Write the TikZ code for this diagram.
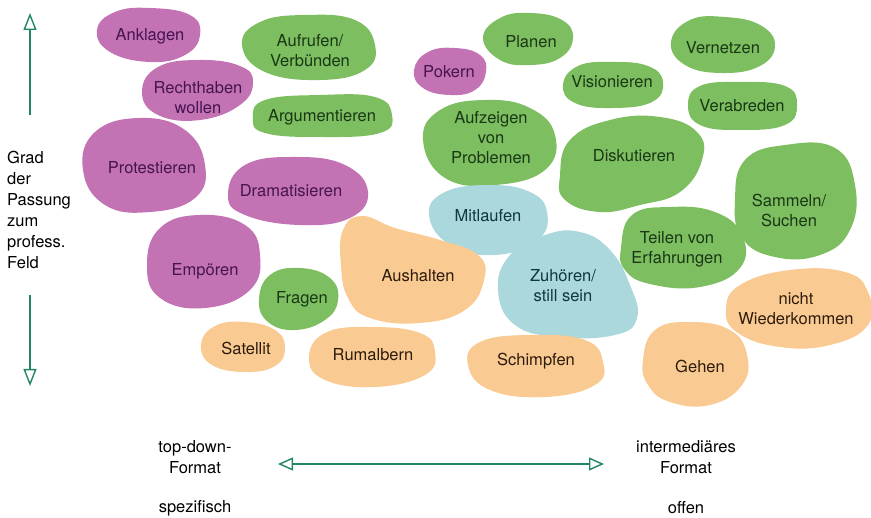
\documentclass[tikz,border=0pt]{standalone}
\usepackage{fontspec}
\setmainfont{TeX Gyre Heros}
\usetikzlibrary{arrows.meta}
\definecolor{cpur}{RGB}{195,114,180}
\definecolor{cgrn}{RGB}{125,190,96}
\definecolor{cblu}{RGB}{170,216,221}
\definecolor{corg}{RGB}{249,202,146}
\definecolor{tpur}{RGB}{70,20,80}
\definecolor{tgrn}{RGB}{25,55,20}
\definecolor{tblu}{RGB}{15,55,62}
\definecolor{torg}{RGB}{45,28,12}
\definecolor{axis}{RGB}{35,135,100}
\tikzset{
  pur/.style={fill=cpur, draw=none},
  grn/.style={fill=cgrn, draw=none},
  blu/.style={fill=cblu, draw=none},
  org/.style={fill=corg, draw=none},
  lbl/.style={align=center, font=\fontsize{16.5}{20}\selectfont, inner sep=0pt},
  lpur/.style={lbl, text=tpur},
  lgrn/.style={lbl, text=tgrn},
  lblu/.style={lbl, text=tblu},
  lorg/.style={lbl, text=torg},
  side/.style={font=\fontsize{16.5}{21}\selectfont, inner sep=0pt, text=black},
  axisarrow/.style={draw=axis, line width=1.4pt, -{Triangle[open, length=17pt, width=13pt, line width=1.4pt]}},
  axisboth/.style={draw=axis, line width=1.4pt, {Triangle[open, length=15pt, width=13pt, line width=1.4pt]}-{Triangle[open, length=15pt, width=13pt, line width=1.4pt]}}
}
\begin{document}
\begin{tikzpicture}[x=1pt, y=-1pt]
\useasboundingbox (0,0) rectangle (871,518);
% purple
\fill[pur] plot[smooth cycle, tension=0.75] coordinates {(97,30) (115,12) (150,8) (190,15) (200,35) (185,55) (150,62) (110,52)};
\fill[pur] plot[smooth cycle, tension=0.75] coordinates {(142,92) (158,67) (200,60) (240,66) (253,82) (240,105) (200,120) (158,115)};
\fill[pur] plot[smooth cycle, tension=0.75] coordinates {(83,170) (95,132) (140,118) (185,130) (205,165) (195,198) (150,212) (105,205)};
\fill[pur] plot[smooth cycle, tension=0.75] coordinates {(228,195) (245,165) (295,157) (345,165) (368,192) (350,218) (300,225) (245,215)};
\fill[pur] plot[smooth cycle, tension=0.75] coordinates {(147,265) (160,228) (200,215) (245,225) (260,255) (250,290) (205,308) (160,298)};
\fill[pur] plot[smooth cycle, tension=0.75] coordinates {(414,70) (428,52) (455,48) (480,55) (486,72) (475,90) (450,95) (423,88)};
% green
\fill[grn] plot[smooth cycle, tension=0.75] coordinates {(242,45) (260,22) (305,15) (355,20) (375,45) (365,70) (320,80) (265,72)};
\fill[grn] plot[smooth cycle, tension=0.75] coordinates {(253,118) (265,100) (320,95) (375,97) (392,115) (380,133) (320,137) (265,133)};
\fill[grn] plot[smooth cycle, tension=0.75] coordinates {(259,300) (270,275) (300,268) (330,278) (338,300) (325,320) (295,330) (268,322)};
\fill[grn] plot[smooth cycle, tension=0.75] coordinates {(483,38) (500,18) (530,13) (562,20) (573,38) (560,58) (530,65) (500,60)};
\fill[grn] plot[smooth cycle, tension=0.75] coordinates {(563,85) (578,66) (612,62) (648,66) (663,82) (652,102) (612,108) (575,103)};
\fill[grn] plot[smooth cycle, tension=0.75] coordinates {(671,42) (690,20) (725,17) (760,25) (775,45) (760,66) (722,73) (685,65)};
\fill[grn] plot[smooth cycle, tension=0.75] coordinates {(688,105) (700,86) (740,82) (785,86) (797,105) (785,125) (740,130) (700,125)};
\fill[grn] plot[smooth cycle, tension=0.75] coordinates {(423,140) (440,110) (485,100) (530,108) (555,135) (545,170) (495,185) (445,178)};
\fill[grn] plot[smooth cycle, tension=0.75] coordinates {(560,175) (570,140) (610,120) (660,117) (697,132) (702,160) (680,192) (640,205) (600,212) (565,200)};
\fill[grn] plot[smooth cycle, tension=0.75] coordinates {(735,200) (745,160) (785,145) (835,148) (855,185) (850,230) (820,255) (775,257) (742,238)};
\fill[grn] plot[smooth cycle, tension=0.75] coordinates {(621,248) (632,215) (670,207) (715,212) (742,235) (740,268) (700,287) (650,284) (625,270)};
% blue
\fill[blu] plot[smooth cycle, tension=0.75] coordinates {(429,215) (445,192) (490,185) (530,192) (547,212) (538,240) (495,255) (450,245)};
\fill[blu] plot[smooth cycle, tension=0.75] coordinates {(498,290) (510,255) (545,235) (580,232) (610,250) (630,285) (637,318) (615,335) (560,337) (515,325)};
% orange
\fill[org] plot[smooth cycle, tension=0.75] coordinates {(341,265) (343,230) (362,216) (395,228) (440,240) (478,255) (484,280) (465,310) (420,323) (370,318) (348,298)};
\fill[org] plot[smooth cycle, tension=0.75] coordinates {(201,345) (215,326) (245,322) (275,330) (285,348) (275,366) (245,372) (212,365)};
\fill[org] plot[smooth cycle, tension=0.75] coordinates {(309,358) (325,333) (370,327) (420,333) (435,352) (425,375) (375,387) (325,380)};
\fill[org] plot[smooth cycle, tension=0.75] coordinates {(468,365) (480,342) (530,335) (585,340) (603,362) (595,385) (545,397) (490,390)};
\fill[org] plot[smooth cycle, tension=0.75] coordinates {(643,360) (655,330) (690,322) (730,330) (747,355) (742,385) (710,405) (670,402) (648,385)};
\fill[org] plot[smooth cycle, tension=0.75] coordinates {(726,310) (740,285) (790,270) (845,272) (868,292) (868,325) (830,345) (780,347) (738,333)};
% labels
\node[lpur] (anklagen) at (150,36) {Anklagen};
\node[lpur] (recht) at (198,98) {Rechthaben\\wollen};
\node[lpur] (protest) at (152,168) {Protestieren};
\node[lpur] (drama) at (291,191) {Dramatisieren};
\node[lpur] (empoer) at (205,271) {Empören};
\node[lpur] (pokern) at (449,72) {Pokern};
\node[lgrn] (aufrufen) at (310,51) {Aufrufen/\\Verbünden};
\node[lgrn] (argument) at (322,117) {Argumentieren};
\node[lgrn] (fragen) at (302,299) {Fragen};
\node[lgrn] (planen) at (531,42) {Planen};
\node[lgrn] (vision) at (612,82) {Visionieren};
\node[lgrn] (vernetzen) at (723,48) {Vernetzen};
\node[lgrn] (verab) at (742,106) {Verabreden};
\node[lgrn] (aufzeigen) at (491,138) {Aufzeigen\\von\\Problemen};
\node[lgrn] (disk) at (634,156) {Diskutieren};
\node[lgrn] (sammeln) at (789,210) {Sammeln/\\Suchen};
\node[lgrn] (teilen) at (677,249) {Teilen von\\Erfahrungen};
\node[lblu] (mitlaufen) at (488,216) {Mitlaufen};
\node[lblu] (zuhoeren) at (563,286) {Zuhören/\\still sein};
\node[lorg] (aushalten) at (418,276) {Aushalten};
\node[lorg] (satellit) at (246,348) {Satellit};
\node[lorg] (rumalbern) at (373,355) {Rumalbern};
\node[lorg] (schimpfen) at (536,361) {Schimpfen};
\node[lorg] (gehen) at (700,366) {Gehen};
\node[lorg] (nicht) at (796,309) {nicht\\Wiederkommen};
% side labels
\node[side, align=left, anchor=west] (grad) at (7,210) {Grad\\der\\Passung\\zum\\profess.\\Feld};
\node[side, align=center] (topdown) at (195,457) {top-down-\\Format};
\node[side] (spez) at (195,508) {spezifisch};
\node[side, align=center] (inter) at (686,457) {intermediäres\\Format};
\node[side] (offen) at (686,508) {offen};
% axes
\coordinate (vtopA) at (30,115);
\coordinate (vtopB) at (30,13);
\coordinate (vbotA) at (30,295);
\coordinate (vbotB) at (30,386);
\coordinate (hl) at (278,464);
\coordinate (hr) at (604,464);
\draw[axisarrow] (vtopA) -- (vtopB);
\draw[axisarrow] (vbotA) -- (vbotB);
\draw[axisboth] (hl) -- (hr);
\end{tikzpicture}
\end{document}
